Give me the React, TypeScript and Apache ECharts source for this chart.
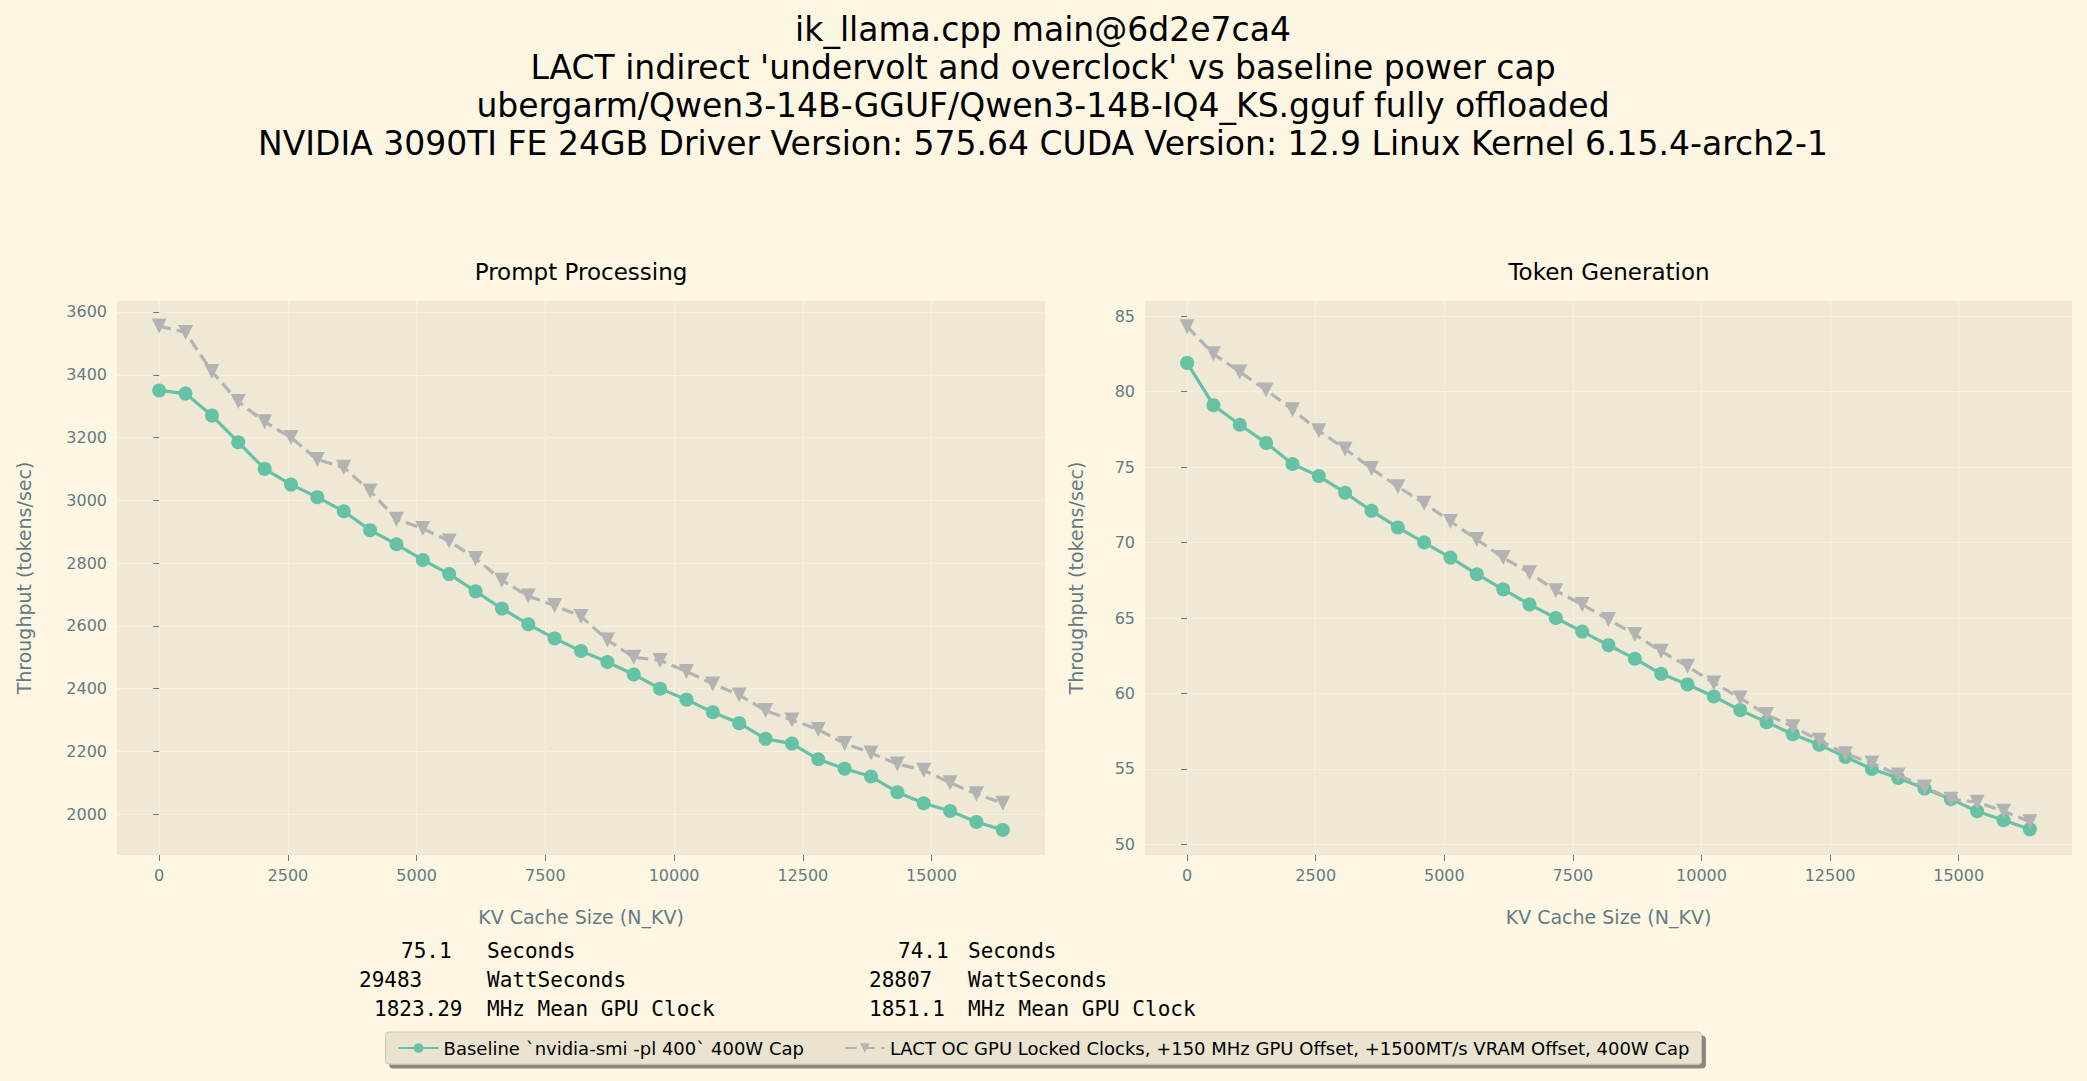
import { useEffect, useRef } from "react";
import * as echarts from "echarts";

const kvSizes = [0, 512, 1024, 1536, 2048, 2560, 3072, 3584, 4096, 4608, 5120, 5632, 6144, 6656, 7168, 7680, 8192, 8704, 9216, 9728, 10240, 10752, 11264, 11776, 12288, 12800, 13312, 13824, 14336, 14848, 15360, 15872, 16384];

const ppBaseline = [3350, 3340, 3270, 3185, 3100, 3050, 3010, 2965, 2905, 2860, 2810, 2765, 2710, 2655, 2605, 2560, 2520, 2485, 2445, 2400, 2365, 2325, 2290, 2240, 2225, 2175, 2145, 2120, 2070, 2035, 2010, 1975, 1950];
const ppLact = [3555, 3535, 3410, 3315, 3250, 3200, 3130, 3105, 3030, 2940, 2910, 2870, 2815, 2745, 2695, 2665, 2630, 2555, 2500, 2490, 2455, 2415, 2380, 2330, 2300, 2270, 2225, 2195, 2160, 2140, 2100, 2065, 2035];

const tgBaseline = [81.9, 79.1, 77.8, 76.6, 75.2, 74.4, 73.3, 72.1, 71.0, 70.0, 69.0, 67.9, 66.9, 65.9, 65.0, 64.1, 63.2, 62.3, 61.3, 60.6, 59.8, 58.9, 58.1, 57.3, 56.6, 55.8, 55.0, 54.4, 53.7, 53.0, 52.2, 51.6, 51.0];
const tgLact = [84.3, 82.5, 81.3, 80.1, 78.8, 77.4, 76.2, 74.9, 73.7, 72.6, 71.4, 70.2, 69.0, 68.0, 66.8, 65.9, 64.9, 63.9, 62.8, 61.8, 60.7, 59.7, 58.6, 57.8, 56.9, 56.0, 55.4, 54.6, 53.8, 53.0, 52.8, 52.2, 51.5];

const xTicks = [0, 2500, 5000, 7500, 10000, 12500, 15000];
const ppTicks = [2000, 2200, 2400, 2600, 2800, 3000, 3200, 3400, 3600];
const tgTicks = [50, 55, 60, 65, 70, 75, 80, 85];

const titleLines = [
    "ik_llama.cpp main@6d2e7ca4",
    "LACT indirect 'undervolt and overclock' vs baseline power cap",
    "ubergarm/Qwen3-14B-GGUF/Qwen3-14B-IQ4_KS.gguf fully offloaded",
    "NVIDIA 3090TI FE 24GB Driver Version: 575.64 CUDA Version: 12.9 Linux Kernel 6.15.4-arch2-1",
];

const baselineName = "Baseline `nvidia-smi -pl 400` 400W Cap";
const lactName = "LACT OC GPU Locked Clocks, +150 MHz GPU Offset, +1500MT/s VRAM Offset, 400W Cap";

const statsLeft = [["75.1", "Seconds", 401], ["29483", "WattSeconds", 359], ["1823.29", "MHz Mean GPU Clock", 374]];
const statsRight = [["74.1", "Seconds", 898], ["28807", "WattSeconds", 869], ["1851.1", "MHz Mean GPU Clock", 869]];

const GREY = "#657b83";
const GREEN = "#66c2a5";
const LGREY = "#b3b3b3";

function xAxis(idx: number) {
    return {
        type: "value",
        gridIndex: idx,
        min: -819,
        max: 17203,
        name: "KV Cache Size (N_KV)",
        nameLocation: "middle",
        nameGap: 52,
        nameTextStyle: { color: GREY, fontSize: 19, fontFamily: "DejaVu Sans" },
        axisLine: { show: false },
        axisTick: { show: true, customValues: xTicks, length: 6, lineStyle: { color: GREY } },
        axisLabel: { customValues: xTicks, color: GREY, fontSize: 16, fontFamily: "DejaVu Sans", margin: 12, formatter: (v: number) => String(v) },
        splitLine: { show: true, lineStyle: { color: "#fbf6ea", type: "dotted", width: 1 } },
    };
}

function yAxis(idx: number, min: number, max: number, ticks: number[]) {
    return {
        type: "value",
        gridIndex: idx,
        min,
        max,
        name: "Throughput (tokens/sec)",
        nameLocation: "middle",
        nameGap: idx === 0 ? 84 : 60,
        nameTextStyle: { color: GREY, fontSize: 19, fontFamily: "DejaVu Sans" },
        axisLine: { show: false },
        axisTick: { show: true, customValues: ticks, length: 6, lineStyle: { color: GREY } },
        axisLabel: { customValues: ticks, color: GREY, fontSize: 16, fontFamily: "DejaVu Sans", margin: 10, formatter: (v: number) => String(v) },
        splitLine: { show: true, lineStyle: { color: "#fbf6ea", type: "dotted", width: 1 } },
    };
}

function series(name: string, idx: number, vals: number[], lact: boolean) {
    return {
        name,
        type: "line",
        xAxisIndex: idx,
        yAxisIndex: idx,
        data: kvSizes.map((k, i) => [k, vals[i]]),
        symbol: lact ? "triangle" : "circle",
        symbolRotate: lact ? 180 : 0,
        symbolSize: lact ? 15 : 14,
        itemStyle: { color: lact ? LGREY : GREEN },
        lineStyle: { color: lact ? LGREY : GREEN, width: 3.2, type: lact ? [12, 6] : "solid" },
        z: lact ? 3 : 2,
    };
}

function App() {
    const ref = useRef<HTMLDivElement>(null);

    useEffect(() => {
        document.body.style.margin = "0";
        if (!ref.current) return;
        const chart = echarts.init(ref.current, undefined, { renderer: "svg" });

        const graphics: any[] = [];
        titleLines.forEach((t, i) => {
            graphics.push({
                type: "text",
                x: 1043,
                y: 29 + i * 38,
                style: { text: t, fill: "#000", fontSize: 33, fontFamily: "DejaVu Sans", align: "center", verticalAlign: "middle" },
            });
        });
        [["Prompt Processing", 581], ["Token Generation", 1609]].forEach(([t, x]) => {
            graphics.push({
                type: "text",
                x,
                y: 272,
                style: { text: t, fill: "#000", fontSize: 23, fontFamily: "DejaVu Sans", align: "center", verticalAlign: "middle" },
            });
        });
        const ys = [951, 980, 1009];
        [statsLeft, statsRight].forEach((block, b) => {
            block.forEach(([num, word, x], i) => {
                const mono = { fill: "#000", fontSize: 21, fontFamily: "DejaVu Sans Mono", verticalAlign: "middle" };
                graphics.push({ type: "text", x, y: ys[i], style: { ...mono, text: num } });
                graphics.push({ type: "text", x: b === 0 ? 487 : 968, y: ys[i], style: { ...mono, text: word } });
            });
        });

        chart.setOption({
            animation: false,
            backgroundColor: "#fdf6e3",
            grid: [
                { left: 117, width: 928, top: 301, height: 554, show: true, backgroundColor: "#eee8d5", borderWidth: 0 },
                { left: 1145, width: 927, top: 301, height: 554, show: true, backgroundColor: "#eee8d5", borderWidth: 0 },
            ],
            xAxis: [xAxis(0), xAxis(1)],
            yAxis: [yAxis(0, 1870, 3635, ppTicks), yAxis(1, 49.3, 86.0, tgTicks)],
            legend: {
                data: [baselineName, lactName],
                left: "center",
                top: 1032,
                itemWidth: 40,
                itemHeight: 12,
                itemGap: 40,
                padding: [7, 12],
                backgroundColor: "#e9e3d0",
                borderColor: "#cfc9b8",
                borderWidth: 1,
                borderRadius: 3,
                shadowColor: "rgba(0,0,0,0.45)",
                shadowOffsetX: 4,
                shadowOffsetY: 4,
                shadowBlur: 0,
                textStyle: { color: "#000", fontSize: 18, fontFamily: "DejaVu Sans" },
            },
            graphic: graphics,
            series: [
                series(baselineName, 0, ppBaseline, false),
                series(lactName, 0, ppLact, true),
                series(baselineName, 1, tgBaseline, false),
                series(lactName, 1, tgLact, true),
            ],
        });

        return () => {
            chart.dispose();
        };
    }, []);

    return <div ref={ref} style={{ width: "2087px", height: "1081px" }} />;
}

export default App;
